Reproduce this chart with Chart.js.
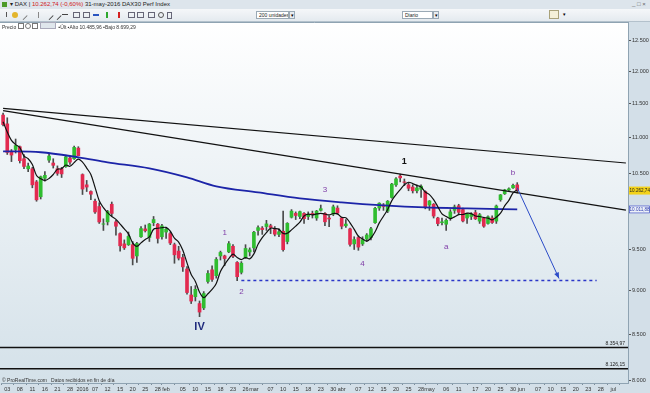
<!DOCTYPE html>
<html>
<head>
<meta charset="utf-8">
<script src="https://cdn.jsdelivr.net/npm/chart.js@4.4.0/dist/chart.umd.min.js"></script>
<style>
html, body { margin:0; padding:0; width:650px; height:393px; overflow:hidden; background:#fff;
  font-family:"Liberation Sans", Arial, sans-serif; }
#wrap { position:relative; width:650px; height:393px; }
#chart { position:absolute; left:0; top:0; }
#t1 { position:absolute; left:0; top:0; width:650px; height:9px; background:#dde5ec; font-size:6px; line-height:9px; color:#222; white-space:nowrap; }
#t2 { position:absolute; left:0; top:9px; width:650px; height:12px; background:linear-gradient(#f5f7f9,#e4eaef); border-bottom:1px solid #b3c1cc; }
#t3 { position:absolute; left:2px; top:22px; height:8px; font-size:5px; line-height:8px; color:#333; white-space:nowrap; }
.ic { position:absolute; top:3px; width:6px; height:6px; }
.box { position:absolute; top:2px; height:8px; background:#fff; border:1px solid #9aa9b5; font-size:5px; line-height:7px; padding-left:2px; box-sizing:border-box; color:#222; white-space:nowrap; overflow:hidden; }
.dd { position:absolute; top:2px; width:6px; height:8px; background:#e8edf1; border:1px solid #9aa9b5; box-sizing:border-box; font-size:5px; line-height:7px; text-align:center; }
</style>
</head>
<body>
<div id="wrap">
<canvas id="chart" width="650" height="393"></canvas>
<div id="t1">
  <span style="position:absolute;left:2px;top:2px;width:5px;height:5px;background:#4c9a2a"></span>
  <span style="position:absolute;left:10px">▾ DAX&nbsp;|&nbsp;<span style="color:#d01818">10.262,74 (-0,60%)</span> 31-may-2016 DAX30 Perf Index</span>
  <span style="position:absolute;left:632px;color:#666">_ □ ×</span>
</div>
<div id="t2">
  <span class="ic" style="left:6px;border-left:1px solid #555;height:5px"></span>
  <span class="ic" style="left:12px;background:#e3b52c;border-radius:3px"></span>
  <span class="ic" style="left:20px;border-bottom:1px solid #777;transform:rotate(-45deg)"></span>
  <span class="ic" style="left:38px;width:1px;background:#888"></span>
  <span class="ic" style="left:46px;border-bottom:1px solid #444;transform:rotate(-45deg)"></span>
  <span class="ic" style="left:54px;border-bottom:1px solid #444;transform:rotate(-45deg)"></span>
  <span class="ic" style="left:62px;top:5px;height:1px;background:#444"></span>
  <span class="ic" style="left:73px;border:1px solid #667;width:5px;height:4px"></span>
  <span class="ic" style="left:83px;border:1px solid #667;width:5px;height:4px"></span>
  <span class="ic" style="left:93px;top:5px;height:2px;background:#2a55c0"></span>
  <span class="ic" style="left:106px;width:2px;background:#2ea82e"></span>
  <span class="ic" style="left:118px;width:2px;background:#d42020"></span>
  <span class="ic" style="left:128px;border:1px solid #667;width:5px;height:4px"></span>
  <span class="ic" style="left:137px;border:1px solid #667;width:5px;height:4px"></span>
  <span class="ic" style="left:148px;border:1px solid #667;width:5px;height:4px"></span>
  <span class="ic" style="left:158px;border:1px solid #555;border-radius:3px;width:4px;height:4px"></span>
  <span class="ic" style="left:167px;border:1px solid #667;width:3px;height:5px"></span>
  <div class="box" style="left:256px;width:33px">200 unidades</div>
  <div class="dd" style="left:289px">▾</div>
  <div class="box" style="left:402px;width:31px">Diario</div>
  <div class="dd" style="left:433px">▾</div>
  <span class="ic" style="left:549px;top:1px;width:10px;height:9px;background:#f4f0d8;border:1px solid #a9a27a;box-sizing:border-box"></span>
  <div class="dd" style="left:561px;border:none;background:none">▾</div>
</div>
<div id="t3">Precio <span style="display:inline-block;width:4px;height:4px;border:1px solid #777"></span> <span style="display:inline-block;width:4px;height:4px;border:1px solid #777;border-radius:3px"></span> <span style="display:inline-block;width:4px;height:4px;border:1px solid #777"></span> <span style="display:inline-block;width:14px;height:5px;background:#dfe6ec;border:1px solid #aab"></span>&nbsp; ▪Últ ▪Alto 10.485,96 ▪Bajo 8.699,29</div>
</div>

<script>
// DAX diario, 2 dic 2015 - 31 may 2016
const firstDay = "2015-12-02";
const lastDay = "2016-07-06";
const holidays = ["2015-12-24", "2015-12-25", "2015-12-31", "2016-01-01", "2016-03-25", "2016-03-28"];

const opens = [
	11330, 11200, 10790, 10830, 10870, 10700, 10560, 10560, 10380, 10180,
	10430, 10680, 10640, 10560, 10560, 10590, 10710, 10700, 10850, 10480,
	10340, 10250, 10120, 10050, 9820, 9850, 10080, 9850, 9700, 9570,
	9560, 9560, 9420, 9660, 9760, 9650, 9840, 9820, 9660, 9720,
	9700, 9560, 9480, 9400, 9260, 8950, 8930, 8850, 8800, 9110,
	9250, 9180, 9420, 9420, 9470, 9540, 9340, 9220, 9400, 9470,
	9520, 9740, 9770, 9790, 9800, 9750, 9690, 9730, 9600, 9910,
	9960, 9920, 9960, 9920, 9960, 9900, 10000, 9960, 9900, 9950,
	10030, 9900, 9800, 9760, 9570, 9650, 9570, 9630, 9650, 9840,
	10030, 10070, 9990, 10170, 10340, 10460, 10380, 10340, 10310, 10260,
	10280, 10250, 10070, 10080, 9900, 9840, 9820, 9900, 10000, 10060,
	10010, 9900, 9920, 9970, 9860, 9900, 9830, 9900, 9860, 10140,
	10220, 10270, 10300, 10340,
];
const highs = [
	11360, 11290, 10830, 10980, 10880, 10760, 10640, 10580, 10400, 10460,
	10520, 10780, 10700, 10600, 10580, 10750, 10720, 10880, 10870, 10490,
	10400, 10260, 10150, 10100, 9890, 10000, 10110, 9870, 9710, 9620,
	9720, 9600, 9590, 9790, 9810, 9830, 9920, 9830, 9820, 9780,
	9720, 9580, 9540, 9440, 9290, 9050, 9060, 8880, 8990, 9240,
	9300, 9400, 9480, 9430, 9600, 9560, 9350, 9350, 9560, 9520,
	9730, 9800, 9790, 9870, 9820, 9790, 9760, 9990, 9840, 10010,
	9980, 9990, 9970, 9980, 9990, 10000, 10070, 9970, 9930, 10070,
	10060, 9910, 9880, 9770, 9660, 9670, 9660, 9700, 9780, 10040,
	10100, 10090, 10130, 10360, 10440, 10486, 10420, 10370, 10340, 10340,
	10340, 10260, 10130, 10090, 9910, 9900, 9890, 10010, 10070, 10080,
	10030, 9960, 9970, 10000, 9960, 9910, 9930, 9930, 10070, 10210,
	10280, 10300, 10350, 10370,
];
const lows = [
	11170, 10760, 10660, 10780, 10640, 10560, 10520, 10300, 10120, 10150,
	10390, 10650, 10570, 10470, 10440, 10580, 10620, 10690, 10740, 10210,
	10250, 10140, 9960, 9830, 9740, 9810, 9930, 9680, 9480, 9500,
	9550, 9310, 9340, 9650, 9720, 9600, 9800, 9580, 9630, 9640,
	9560, 9330, 9370, 9230, 8960, 8850, 8880, 8699, 8780, 9090,
	9110, 9150, 9370, 9300, 9460, 9400, 9120, 9200, 9390, 9420,
	9470, 9680, 9690, 9740, 9700, 9670, 9660, 9480, 9570, 9900,
	9880, 9890, 9830, 9880, 9900, 9870, 9990, 9800, 9790, 9930,
	9950, 9760, 9780, 9540, 9500, 9490, 9550, 9600, 9620, 9830,
	10000, 10000, 9970, 10160, 10320, 10380, 10330, 10260, 10230, 10230,
	10170, 10020, 10000, 9900, 9800, 9810, 9740, 9870, 9960, 9950,
	9850, 9830, 9880, 9880, 9830, 9780, 9820, 9830, 9830, 10120,
	10210, 10250, 10290, 10230,
];
const closes = [
	11190, 10789, 10752, 10886, 10673, 10592, 10598, 10340, 10139, 10450,
	10470, 10738, 10608, 10497, 10489, 10727, 10653, 10860, 10743, 10283,
	10310, 10214, 9979, 9849, 9825, 9985, 9960, 9794, 9546, 9521,
	9664, 9391, 9574, 9764, 9736, 9822, 9880, 9639, 9798, 9757,
	9581, 9434, 9393, 9286, 8979, 8879, 9017, 8752, 8967, 9206,
	9135, 9377, 9463, 9388, 9573, 9416, 9167, 9331, 9513, 9495,
	9717, 9776, 9751, 9824, 9778, 9692, 9723, 9498, 9831, 9990,
	9933, 9983, 9892, 9950, 9948, 9990, 10022, 9851, 9887, 10046,
	9966, 9794, 9822, 9564, 9624, 9530, 9622, 9682, 9761, 10026,
	10094, 10051, 10120, 10350, 10421, 10435, 10373, 10294, 10260, 10299,
	10322, 10039, 10123, 9926, 9828, 9851, 9870, 9980, 10045, 9975,
	9862, 9952, 9952, 9890, 9943, 9795, 9916, 9842, 10057, 10205,
	10272, 10286, 10333, 10263,
];
// media corta (linea negra)
const maShort = [
	11230, 11080, 10960, 10900, 10858, 10738, 10700, 10618, 10468, 10424,
	10399, 10427, 10481, 10553, 10560, 10612, 10595, 10645, 10694, 10653,
	10570, 10482, 10306, 10127, 10035, 9970, 9920, 9883, 9822, 9761,
	9697, 9583, 9539, 9583, 9626, 9657, 9755, 9768, 9775, 9779,
	9731, 9642, 9593, 9490, 9335, 9194, 9111, 8983, 8919, 8964,
	9015, 9087, 9230, 9314, 9387, 9443, 9401, 9375, 9400, 9384,
	9445, 9566, 9650, 9713, 9769, 9764, 9754, 9703, 9704, 9747,
	9795, 9847, 9926, 9950, 9941, 9953, 9960, 9952, 9940, 9959,
	9954, 9909, 9903, 9838, 9754, 9667, 9632, 9604, 9644, 9724,
	9837, 9923, 10010, 10128, 10207, 10275, 10340, 10375, 10357, 10332,
	10310, 10243, 10209, 10142, 10048, 9953, 9920, 9891, 9915, 9944,
	9946, 9963, 9957, 9926, 9920, 9906, 9899, 9877, 9911, 9963,
	10058, 10132, 10231, 10272,
];
// media larga (linea azul), leida por tramos
const maLongDates = ["2015-12-02", "2015-12-15", "2015-12-30", "2016-01-12", "2016-01-26", "2016-02-08", "2016-02-17",
	"2016-03-02", "2016-03-16", "2016-04-01", "2016-04-15", "2016-04-29", "2016-05-13", "2016-05-31"];
const maLongValues = [10805, 10791, 10720, 10650, 10566, 10442, 10319, 10238, 10158, 10105, 10065, 10038, 10025, 10012];

// lineas dibujadas
const trendDates = ["2015-12-02", "2016-07-06"];
const trendUpper = [11430, 10640];
const trendLower = [11395, 10003];
const targetDates = ["2016-02-25", "2016-06-27"];
const targetValue = 9122;
const arrowDates = ["2016-05-31", "2016-06-14"];
const arrowValues = [10300, 9146];
const hLevels = [8354.97, 8126.15];
const lastPrice = 10262.74;
const maLast = 10011.88;

// conteo de ondas
const waveTexts = ["IV", "1", "2", "3", "4", "1", "a", "b"];
const waveDates = ["2016-02-11", "2016-02-19", "2016-02-25", "2016-03-24", "2016-04-08", "2016-04-22", "2016-05-06", "2016-05-30"];
const waveValues = [8584, 9715, 8992, 10279, 9328, 10665, 9538, 10510];

// eje
const yTicks = [8000, 8500, 9000, 9500, 10000, 10500, 11000, 11500, 12000, 12500];
const yMin = 7975;
const yMax = 12800;
const tickDates = ["2015-12-03", "2015-12-08", "2015-12-11", "2015-12-16", "2015-12-21", "2015-12-28",
	"2016-01-04", "2016-01-07", "2016-01-12", "2016-01-15", "2016-01-20", "2016-01-25", "2016-01-28",
	"2016-02-01", "2016-02-05", "2016-02-10", "2016-02-15", "2016-02-18", "2016-02-23", "2016-02-26",
	"2016-03-01", "2016-03-07", "2016-03-10", "2016-03-15", "2016-03-18", "2016-03-23", "2016-03-30",
	"2016-04-01", "2016-04-07", "2016-04-12", "2016-04-15", "2016-04-20", "2016-04-25", "2016-04-28",
	"2016-05-02", "2016-05-06", "2016-05-11", "2016-05-17", "2016-05-20", "2016-05-25", "2016-05-30",
	"2016-06-01", "2016-06-07", "2016-06-10", "2016-06-15", "2016-06-20", "2016-06-23", "2016-06-28",
	"2016-07-01"];
const tickTexts = ["03", "08", "11", "16", "21", "28",
	"2016", "07", "12", "15", "20", "25", "28",
	"feb", "05", "10", "15", "18", "23", "26",
	"mar", "07", "10", "15", "18", "23", "30",
	"abr", "07", "12", "15", "20", "25", "28",
	"may", "06", "11", "17", "20", "25", "30",
	"jun", "07", "10", "15", "20", "23", "28",
	"jul"];

function tradingDays(a, b) {
	const out = [];
	const d = new Date(a + "T12:00:00Z");
	const end = new Date(b + "T12:00:00Z");
	while (d <= end) {
		const s = d.toISOString().slice(0, 10);
		const wd = d.getUTCDay();
		if (wd !== 0 && wd !== 6 && !holidays.includes(s)) out.push(s);
		d.setUTCDate(d.getUTCDate() + 1);
	}
	return out;
}
const labels = tradingDays(firstDay, lastDay);

function fmt(v, dec) {
	const parts = v.toFixed(dec).split(".");
	parts[0] = parts[0].replace(/\B(?=(\d{3})+(?!\d))/g, ".");
	return parts.join(",");
}
const pairs = (dates, values) => dates.map((d, i) => ({ x: d, y: values[i] }));

const GREEN = "#2fbd2f";
const RED = "#e22a50";
const candleColors = closes.map((c, i) => (c >= opens[i] ? GREEN : RED));

Chart.defaults.font.family = '"Liberation Sans", Arial, sans-serif';

const overlay = {
	id: "overlay",
	beforeDraw(chart) {
		const { ctx, chartArea: a, width, height } = chart;
		ctx.save();
		ctx.fillStyle = "#d3dfe8";
		ctx.fillRect(0, 0, width, height);
		const g = ctx.createLinearGradient(0, a.top, 0, a.bottom);
		g.addColorStop(0, "#ffffff");
		g.addColorStop(1, "#d4e1e9");
		ctx.fillStyle = g;
		ctx.fillRect(0, a.top, a.right, a.bottom - a.top);
		ctx.strokeStyle = "#8fa3b2";
		ctx.lineWidth = 1;
		ctx.beginPath();
		ctx.moveTo(0, a.top + 0.5);
		ctx.lineTo(a.right + 0.5, a.top + 0.5);
		ctx.lineTo(a.right + 0.5, a.bottom);
		ctx.stroke();
		ctx.restore();
	},
	afterDatasetsDraw(chart) {
		const { ctx, chartArea: a } = chart;
		const x = chart.scales.x, y = chart.scales.y;
		const px = (d) => x.getPixelForValue(labels.indexOf(d));
		ctx.save();
		// niveles horizontales
		ctx.strokeStyle = "#111";
		ctx.lineWidth = 1.5;
		ctx.font = "5px 'Liberation Sans', Arial";
		ctx.textAlign = "right";
		ctx.textBaseline = "bottom";
		hLevels.forEach((v) => {
			const yy = y.getPixelForValue(v);
			ctx.beginPath();
			ctx.moveTo(0, yy);
			ctx.lineTo(a.right, yy);
			ctx.stroke();
			ctx.fillStyle = "#222";
			ctx.fillText(fmt(v, 2), a.right - 3, yy - 1.5);
		});
		// punta de flecha
		const x1 = px(arrowDates[0]), y1 = y.getPixelForValue(arrowValues[0]);
		const x2 = px(arrowDates[1]), y2 = y.getPixelForValue(arrowValues[1]);
		const ang = Math.atan2(y2 - y1, x2 - x1);
		ctx.fillStyle = "#2c4cc8";
		ctx.beginPath();
		ctx.moveTo(x2, y2);
		ctx.lineTo(x2 - 6 * Math.cos(ang) + 2.5 * Math.sin(ang), y2 - 6 * Math.sin(ang) - 2.5 * Math.cos(ang));
		ctx.lineTo(x2 - 6 * Math.cos(ang) - 2.5 * Math.sin(ang), y2 - 6 * Math.sin(ang) + 2.5 * Math.cos(ang));
		ctx.closePath();
		ctx.fill();
		// ondas
		ctx.textAlign = "center";
		ctx.textBaseline = "middle";
		waveTexts.forEach((t, i) => {
			if (i === 0) {
				ctx.font = "bold 11px 'Liberation Sans', Arial";
				ctx.fillStyle = "#1f2a7c";
			} else if (i === 5) {
				ctx.font = "bold 9px 'Liberation Sans', Arial";
				ctx.fillStyle = "#111";
			} else {
				ctx.font = "8px 'Liberation Sans', Arial";
				ctx.fillStyle = "#7d3aa6";
			}
			ctx.fillText(t, px(waveDates[i]), y.getPixelForValue(waveValues[i]));
		});
		// pie
		ctx.font = "5px 'Liberation Sans', Arial";
		ctx.textAlign = "left";
		ctx.textBaseline = "alphabetic";
		ctx.fillStyle = "#333";
		ctx.fillText("© ProRealTime.com   Datos recibidos en fin de día", 2, a.bottom - 1);
		ctx.restore();
	},
	afterDraw(chart) {
		const { ctx, chartArea: a, width } = chart;
		const y = chart.scales.y;
		ctx.save();
		ctx.font = "4.6px 'Liberation Sans', Arial";
		ctx.textBaseline = "middle";
		ctx.textAlign = "left";
		let yy = y.getPixelForValue(lastPrice);
		ctx.fillStyle = "#f3d21a";
		ctx.fillRect(a.right + 1, yy - 4, width - a.right - 1, 8);
		ctx.fillStyle = "#222";
		ctx.fillText(fmt(lastPrice, 2), a.right + 1.5, yy + 0.5);
		yy = y.getPixelForValue(maLast);
		ctx.fillStyle = "#eef2f8";
		ctx.fillRect(a.right + 1, yy - 4, width - a.right - 1, 8);
		ctx.strokeStyle = "#3a4cc0";
		ctx.lineWidth = 0.7;
		ctx.strokeRect(a.right + 1.5, yy - 3.5, width - a.right - 2, 7);
		ctx.fillStyle = "#2a38b0";
		ctx.fillText(fmt(maLast, 2), a.right + 1.5, yy + 0.5);
		ctx.restore();
	},
};

new Chart(document.getElementById("chart"), {
	type: "bar",
	data: {
		labels: labels,
		datasets: [
			{
				type: "line",
				data: pairs(arrowDates, arrowValues),
				borderColor: "#2c4cc8",
				borderWidth: 1,
				pointRadius: 0,
				order: 1,
			},
			{
				type: "line",
				data: pairs(targetDates, [targetValue, targetValue]),
				borderColor: "#2a36c8",
				borderWidth: 1.5,
				borderDash: [3, 3],
				pointRadius: 0,
				order: 2,
			},
			{
				type: "line",
				data: pairs(trendDates, trendUpper),
				borderColor: "#111",
				borderWidth: 1.2,
				pointRadius: 0,
				order: 3,
			},
			{
				type: "line",
				data: pairs(trendDates, trendLower),
				borderColor: "#111",
				borderWidth: 1.2,
				pointRadius: 0,
				order: 3,
			},
			{
				type: "line",
				data: maShort,
				borderColor: "#111",
				borderWidth: 1.2,
				pointRadius: 0,
				tension: 0.35,
				order: 4,
			},
			{
				type: "line",
				data: pairs(maLongDates, maLongValues),
				borderColor: "#1c24a8",
				borderWidth: 1.8,
				pointRadius: 0,
				cubicInterpolationMode: "monotone",
				spanGaps: true,
				order: 5,
			},
			{
				data: opens.map((o, i) => [o, closes[i]]),
				backgroundColor: candleColors,
				barThickness: 3,
				grouped: false,
				borderWidth: 0,
				order: 8,
			},
			{
				data: lows.map((l, i) => [l, highs[i]]),
				backgroundColor: "#4a4a4a",
				barThickness: 1,
				grouped: false,
				borderWidth: 0,
				order: 9,
			},
		],
	},
	options: {
		responsive: false,
		animation: false,
		events: [],
		layout: { autoPadding: false, padding: { top: 22, left: 1, right: 0, bottom: 0 } },
		plugins: { legend: { display: false }, tooltip: { enabled: false } },
		scales: {
			x: {
				type: "category",
				offset: true,
				grid: { drawOnChartArea: false, tickLength: 2, color: "#7a8c99" },
				border: { color: "#8fa3b2" },
				ticks: {
					autoSkip: false,
					maxRotation: 0,
					padding: 1,
					color: "#333",
					font: { size: 5.5 },
					callback: (v) => tickTexts[tickDates.indexOf(labels[v])],
				},
				afterBuildTicks: (s) => {
					s.ticks = s.ticks.filter((t) => tickDates.includes(labels[t.value]));
				},
				afterFit: (s) => {
					s.height = 10;
				},
			},
			y: {
				type: "logarithmic",
				position: "right",
				min: yMin,
				max: yMax,
				grid: { drawOnChartArea: false, tickLength: 3, color: "#555" },
				border: { color: "#8fa3b2" },
				ticks: {
					padding: 1,
					color: "#333",
					font: { size: 5.5 },
					callback: (v) => fmt(v, 0),
				},
				afterBuildTicks: (s) => {
					s.ticks = yTicks.map((v) => ({ value: v }));
				},
				afterFit: (s) => {
					s.width = 22;
				},
			},
		},
	},
	plugins: [overlay],
});
</script>
</body>
</html>
